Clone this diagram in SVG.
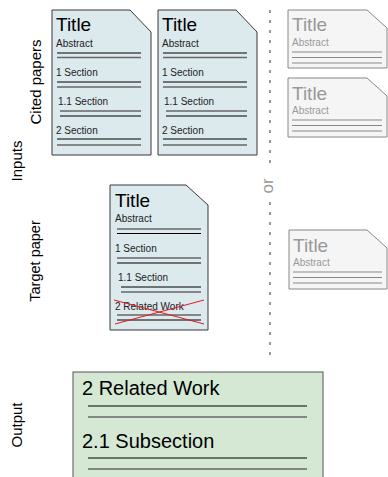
<svg xmlns="http://www.w3.org/2000/svg" width="388" height="477" viewBox="0 0 388 477">
<style>
text{font-family:"Liberation Sans",Arial,sans-serif;}
.paper{fill:#dce9ed;stroke:#36393d;stroke-width:1;}
.gpaper{fill:#f5f5f5;stroke:#888;stroke-width:1;}
.title{font-size:19px;fill:#000;}
.small{font-size:10px;fill:#222;}
.gtitle{font-size:19px;fill:#999;}
.gsmall{font-size:10px;fill:#999;}
.l1{stroke:#000;stroke-width:1;}
.l2{stroke:#666;stroke-width:1.5;}
.g1{stroke:#888;stroke-width:1;}
.lab{font-size:15px;fill:#000;}
</style>
<rect width="388" height="477" fill="#fff"/>
<g id="labels">
<text class="lab" transform="translate(41,82) rotate(-90)" text-anchor="middle">Cited papers</text>
<text class="lab" transform="translate(22,161) rotate(-90)" text-anchor="middle">Inputs</text>
<text class="lab" transform="translate(40,261) rotate(-90)" text-anchor="middle" style="font-size:14.5px">Target paper</text>
<text class="lab" transform="translate(22,425) rotate(-90)" text-anchor="middle">Output</text>
</g>
<g id="cited1">
<path class="paper" d="M52,10 H130 L151,32 V155 H52 Z"/>
<text class="title" x="56" y="31">Title</text>
<text class="small" x="56" y="47">Abstract</text>
<line class="l1" x1="57" y1="53" x2="141" y2="53"/><line class="l2" x1="57" y1="57.5" x2="141" y2="57.5"/>
<text class="small" x="56" y="76">1 Section</text>
<line class="l1" x1="57" y1="82" x2="141" y2="82"/><line class="l2" x1="57" y1="87" x2="141" y2="87"/>
<text class="small" x="58" y="105">1.1 Section</text>
<line class="l2" x1="60" y1="111" x2="141" y2="111"/><line class="l1" x1="60" y1="116" x2="141" y2="116"/>
<text class="small" x="56" y="134">2 Section</text>
<line class="l1" x1="57" y1="139" x2="141" y2="139"/><line class="l2" x1="57" y1="145" x2="141" y2="145"/>
</g>
<g id="cited2">
<path class="paper" d="M158,10 H236 L257,32 V155 H158 Z"/>
<text class="title" x="162" y="31">Title</text>
<text class="small" x="162" y="47">Abstract</text>
<line class="l1" x1="163" y1="53" x2="247" y2="53"/><line class="l2" x1="163" y1="57.5" x2="247" y2="57.5"/>
<text class="small" x="162" y="76">1 Section</text>
<line class="l1" x1="163" y1="82" x2="247" y2="82"/><line class="l2" x1="163" y1="87" x2="247" y2="87"/>
<text class="small" x="164" y="105">1.1 Section</text>
<line class="l2" x1="166" y1="111" x2="247" y2="111"/><line class="l1" x1="166" y1="116" x2="247" y2="116"/>
<text class="small" x="162" y="134">2 Section</text>
<line class="l1" x1="163" y1="139" x2="247" y2="139"/><line class="l2" x1="163" y1="145" x2="247" y2="145"/>
</g>
<g id="target">
<path class="paper" d="M110,185 H186 L208,205 V330 H110 Z"/>
<text class="title" x="115" y="207">Title</text>
<text class="small" x="115" y="222">Abstract</text>
<line class="l2" x1="117" y1="229" x2="201" y2="229"/><line class="l1" x1="117" y1="233.5" x2="201" y2="233.5"/>
<text class="small" x="115" y="252">1 Section</text>
<line class="l2" x1="117" y1="258" x2="201" y2="258"/><line class="l1" x1="117" y1="263" x2="201" y2="263"/>
<text class="small" x="118" y="281">1.1 Section</text>
<line class="l1" x1="121" y1="287" x2="201" y2="287"/><line class="l2" x1="121" y1="292" x2="201" y2="292"/>
<text class="small" x="115" y="310">2 Related Work</text>
<line class="l2" x1="117" y1="315" x2="201" y2="315"/><line class="l1" x1="117" y1="320" x2="201" y2="320"/>
<line x1="114" y1="300" x2="204" y2="324" stroke="#e31a1c" stroke-width="1"/>
<line x1="115" y1="324" x2="204" y2="300" stroke="#e31a1c" stroke-width="1"/>
</g>
<g id="divider">
<line x1="270" y1="10" x2="270" y2="164" stroke="#999" stroke-width="2" stroke-dasharray="3 7"/>
<line x1="270" y1="202" x2="270" y2="355" stroke="#999" stroke-width="2" stroke-dasharray="3 7"/>
<text transform="translate(273,186) rotate(-90)" text-anchor="middle" style="font-size:17px;fill:#999">or</text>
</g>
<g id="gray1">
<path class="gpaper" d="M288,10 H367 L387,28 V68 H288 Z"/>
<text class="gtitle" x="292" y="31">Title</text>
<text class="gsmall" x="292" y="46">Abstract</text>
<line class="g1" x1="292" y1="52" x2="382" y2="52"/><line class="g1" x1="292" y1="57.5" x2="382" y2="57.5"/><line class="g1" x1="292" y1="63" x2="382" y2="63"/>
</g>
<g id="gray2">
<path class="gpaper" d="M288,78 H367 L387,96 V137 H288 Z"/>
<text class="gtitle" x="292" y="100">Title</text>
<text class="gsmall" x="292" y="114">Abstract</text>
<line class="g1" x1="292" y1="120" x2="382" y2="120"/><line class="g1" x1="292" y1="125.5" x2="382" y2="125.5"/><line class="g1" x1="292" y1="131" x2="382" y2="131"/>
</g>
<g id="gray3">
<path class="gpaper" d="M289,230 H367 L387,248 V289 H289 Z"/>
<text class="gtitle" x="293" y="252">Title</text>
<text class="gsmall" x="293" y="266">Abstract</text>
<line class="g1" x1="293" y1="272" x2="382" y2="272"/><line class="g1" x1="293" y1="277.5" x2="382" y2="277.5"/><line class="g1" x1="293" y1="283" x2="382" y2="283"/>
</g>
<g id="output">
<rect x="73" y="372" width="250" height="120" fill="#d5e8d4" stroke="#555" stroke-width="1"/>
<text x="82" y="395" style="font-size:20px;fill:#000">2 Related Work</text>
<line class="l1" x1="88" y1="406" x2="307" y2="406"/><line class="l2" x1="88" y1="417" x2="307" y2="417"/>
<text x="82" y="448" style="font-size:20px;fill:#000">2.1 Subsection</text>
<line class="l1" x1="88" y1="458" x2="307" y2="458"/><line class="l2" x1="88" y1="469" x2="307" y2="469"/>
</g>
<g id="connectors"></g>
</svg>
